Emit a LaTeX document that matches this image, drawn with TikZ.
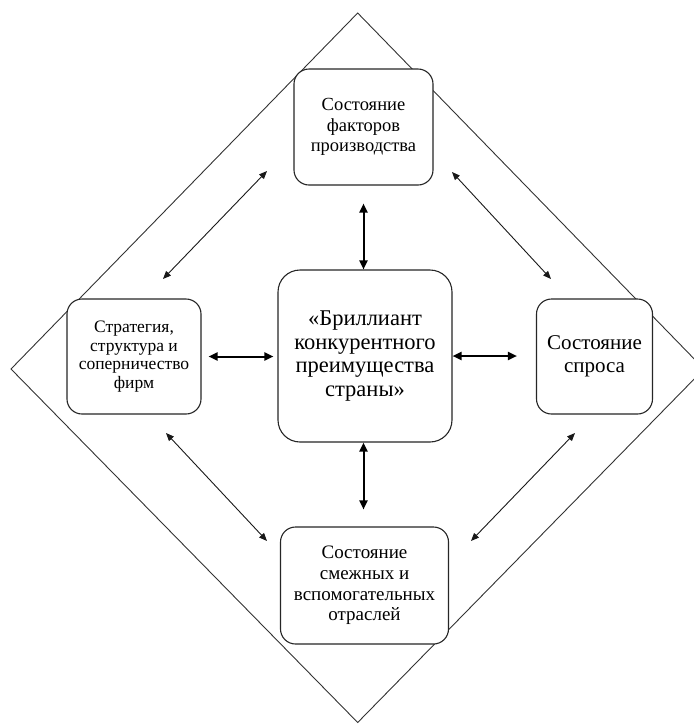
\documentclass[tikz,border=0pt]{standalone}
\usepackage{fontspec}
\setmainfont{Liberation Serif}
\usetikzlibrary{arrows.meta,calc}
\begin{document}
\begin{tikzpicture}[x=1pt,y=-1pt,
  box/.style={draw=black!85, fill=white, line width=1.1pt, rounded corners=15pt, align=center, inner sep=0pt},
  dual/.style={{Triangle[length=8pt,width=6.5pt]}-{Triangle[length=8pt,width=6.5pt]}, line width=0.9pt, black!90},
  thickarrow/.style={{Triangle[length=9pt,width=8pt]}-{Triangle[length=9pt,width=8pt]}, line width=2pt, black}]
\useasboundingbox (0,0) rectangle (694,724);
\begin{scope}
\clip (0,0) rectangle (694,724);
\draw[line width=0.9pt, black!80] (357.7,13) -- (11,369) -- (357.7,722.5) -- (704,369) -- cycle;
\end{scope}
\node[box, minimum width=139pt, minimum height=116pt, font=\fontsize{18.5}{20.5}\selectfont] (top) at (363.5,127) {Состояние\\факторов\\производства};
\node[box, minimum width=134pt, minimum height=115pt, font=\fontsize{17.5}{18.5}\selectfont] (left) at (134,356.5) {Стратегия,\\структура и\\соперничество\\фирм};
\node[box, minimum width=116pt, minimum height=115pt, font=\fontsize{21}{22.5}\selectfont] (right) at (594.5,356.5) {Состояние\\спроса};
\node[box, rounded corners=22pt, minimum width=174pt, minimum height=172pt, font=\fontsize{22.5}{23.5}\selectfont] (center) at (365,356) {«Бриллиант\\конкурентного\\преимущества\\страны»};
\node[box, minimum width=168pt, minimum height=117pt, font=\fontsize{19}{20.7}\selectfont] (bottom) at (364.5,585.5) {Состояние\\смежных и\\вспомогательных\\отраслей};
% thick arrows
\draw[thickarrow, shorten <=18pt] (top.south) -- (top.south |- center.north);
\draw[thickarrow, shorten >=17pt] (top.south |- center.south) -- (top.south |- bottom.north);
\draw[thickarrow, shorten <=7pt, shorten >=4pt] (left.east) -- (left.east -| center.west);
\draw[thickarrow, shorten >=19pt] (center.east) -- (center.east -| right.west);
% diagonal arrows
\coordinate (d1a) at (163,279); \coordinate (d1b) at (267,171);
\coordinate (d2a) at (452,172); \coordinate (d2b) at (551,279);
\coordinate (d3a) at (166,433); \coordinate (d3b) at (267,541);
\coordinate (d4a) at (575,433); \coordinate (d4b) at (471,541);
\draw[dual] (d1a) -- (d1b);
\draw[dual] (d2a) -- (d2b);
\draw[dual] (d3a) -- (d3b);
\draw[dual] (d4a) -- (d4b);
\end{tikzpicture}
\end{document}
